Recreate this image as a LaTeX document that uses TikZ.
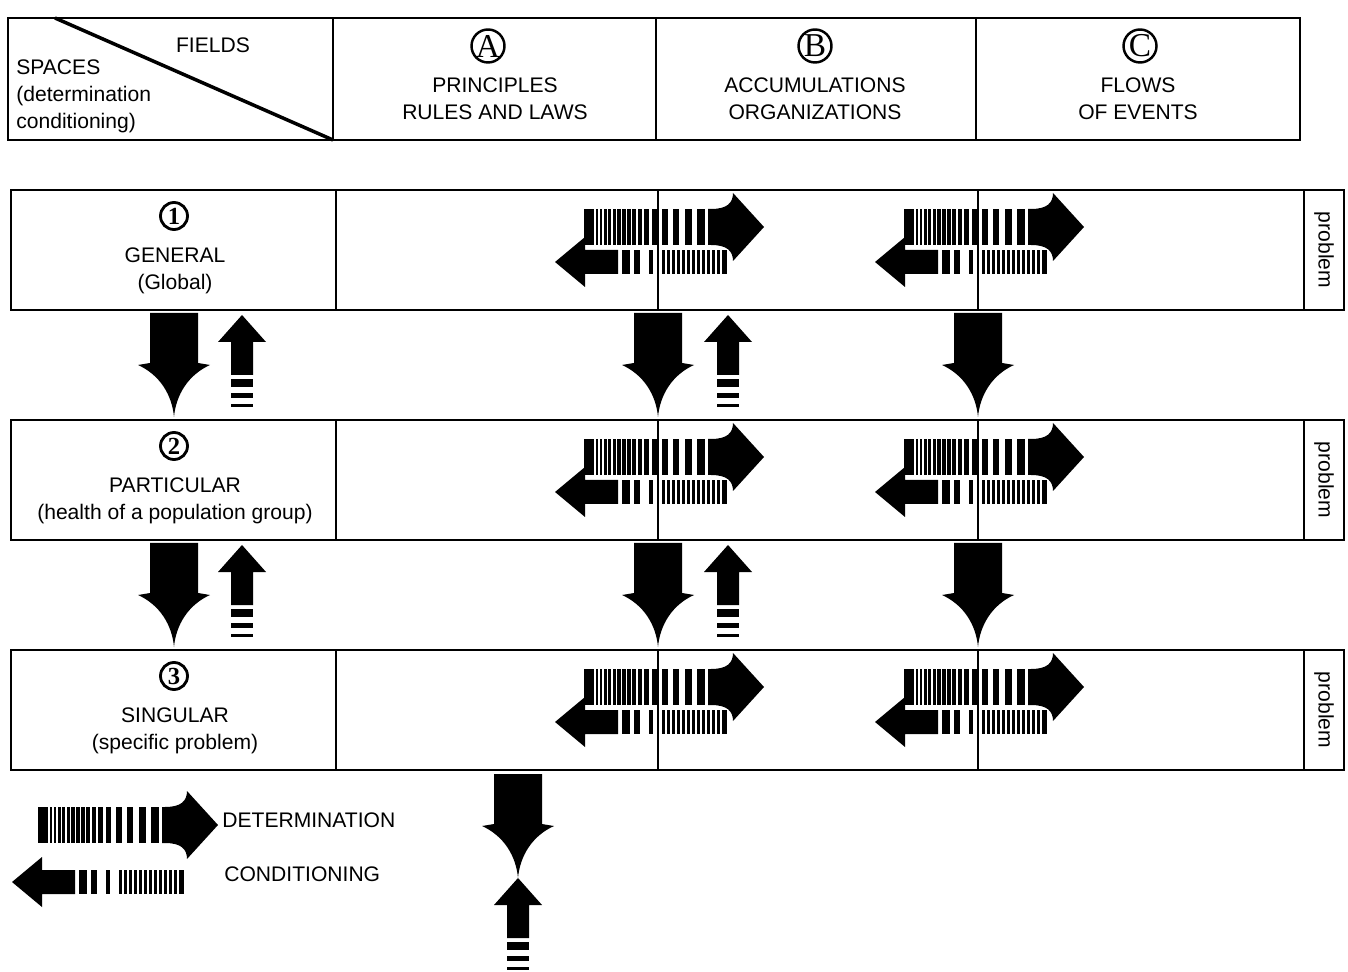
\documentclass[tikz,border=0pt]{standalone}
\usepackage{fontspec}
\setmainfont{Liberation Sans}
\newfontfamily\letterfont{Liberation Serif}

\begin{document}
\begin{tikzpicture}[
    x=0.02cm, y=-0.02cm,
    frame/.style={line width=1.6pt},
    divider/.style={line width=0.8pt},
    diag/.style={line width=2pt},
    celltext/.style={align=center, inner sep=0pt, font=\fontsize{12}{15.3}\selectfont},
    lettercirc/.style={circle, draw, line width=1.4pt, minimum size=0.66cm,
      inner sep=0pt, font=\letterfont\fontsize{19}{19}\selectfont},
    numcirc/.style={circle, draw, line width=1.6pt, minimum size=0.54cm,
      inner sep=0pt, font=\letterfont\bfseries\fontsize{14}{14}\selectfont},
    probtext/.style={rotate=-90, inner sep=0pt, font=\fontsize{12}{14}\selectfont},
    % striped arrow pointing right
    detarrow/.pic={
      \foreach \a/\b in {0/10,11.5/14,15.5/18,19.5/22.5,24/27,28.5/31.5,33/36.5,
          38/41.5,43/46.5,48/51.5,53.5/57.5,60/65,67.5/73,78/83.5,89/95,
          101/108,113/121}
        \fill (\a,-18) rectangle (\b,18);
      \fill (124,-18) -- (127,-18) .. controls (143,-18) and (149,-24) .. (149,-34)
        -- (180,0) -- (149,34) .. controls (149,24) and (143,18) .. (127,18)
        -- (124,18) -- cycle;
    },
    % striped arrow pointing left
    condarrow/.pic={
      \fill (0,0) -- (30,-25) -- (30,-12) -- (63,-12) -- (63,12) -- (30,12)
        -- (30,25) -- cycle;
      \foreach \a/\b in {67/75,79/85,94/98,106.5/109.5,111.5/114.5,116.5/119.5,
          121.5/124.5,126.5/129.5,131.5/134.5,136.5/139.5,141.5/144.5,
          146.5/149.5,151.5/154.5,156.5/159.5,161.5/164.5,166.5/172}
        \fill (\a,-12) rectangle (\b,12);
    },
    downarrow/.pic={
      \fill (-24,0) -- (24,0) -- (24,50) -- (36,52) .. controls (14,62) and (2,82) .. (0,104)
        .. controls (-2,82) and (-14,62) .. (-36,52) -- (-24,50) -- cycle;
    },
    uparrow/.pic={
      \fill (0,0) -- (24,27) -- (11,27) -- (11,60) -- (-11,60) -- (-11,27)
        -- (-24,27) -- cycle;
      \fill (-11,64) rectangle (11,72);
      \fill (-11,78) rectangle (11,83);
      \fill (-11,89) rectangle (11,92);
    }
  ]
  \useasboundingbox (0,0) rectangle (1348,972);

  % header
  \draw[frame] (8,18) rectangle (1300,140);
  \draw[divider] (333,18) -- (333,140);
  \draw[divider] (656,18) -- (656,140);
  \draw[divider] (976,18) -- (976,140);
  \draw[diag] (55,18) -- (333,140);
  \node[celltext] (fields) at (213,45) {FIELDS};
  \node[celltext, anchor=west, align=left] (spaces) at (16,96)
    {SPACES\\(determination\\conditioning)};
  \node[lettercirc] (circA) at (488,46) {A};
  \node[celltext] (fieldA) at (495,99) {PRINCIPLES\\RULES AND LAWS};
  \node[lettercirc] (circB) at (815,46) {B};
  \node[celltext] (fieldB) at (815,99) {ACCUMULATIONS\\ORGANIZATIONS};
  \node[lettercirc] (circC) at (1140,46) {C};
  \node[celltext] (fieldC) at (1138,99) {FLOWS\\OF EVENTS};

  % rows
  \foreach \top/\name/\sub [count=\i] in {190/GENERAL/{(Global)},
      420/PARTICULAR/{(health of a population group)},
      650/SINGULAR/{(specific problem)}} {
    \draw[frame] (11,\top) rectangle (1344,\top+120);
    \draw[divider] (336,\top) -- (336,\top+120);
    \draw[divider] (658,\top) -- (658,\top+120);
    \draw[divider] (978,\top) -- (978,\top+120);
    \draw[divider] (1304,\top) -- (1304,\top+120);
    \node[numcirc] (num\i) at (174,\top+26) {\i};
    \node[celltext] (space\i) at (175,\top+81) {\name\\\sub};
    \node[probtext] (prob\i) at (1324,\top+60) {problem};
    \pic at (584,\top+37) {detarrow};
    \pic at (904,\top+37) {detarrow};
    \pic at (555,\top+72) {condarrow};
    \pic at (875,\top+72) {condarrow};
  }

  % between rows
  \foreach \bot in {310,540} {
    \pic at (174,\bot+3) {downarrow};
    \pic at (242,\bot+5) {uparrow};
    \pic at (658,\bot+3) {downarrow};
    \pic at (728,\bot+5) {uparrow};
    \pic at (978,\bot+3) {downarrow};
  }
  \pic at (518,774) {downarrow};
  \pic at (518,878) {uparrow};

  % legend
  \pic at (38,825) {detarrow};
  \pic at (12,882) {condarrow};
  \node[celltext, anchor=west] (determination) at (222,820) {DETERMINATION};
  \node[celltext, anchor=west] (conditioning) at (224,874) {CONDITIONING};
\end{tikzpicture}
\end{document}
